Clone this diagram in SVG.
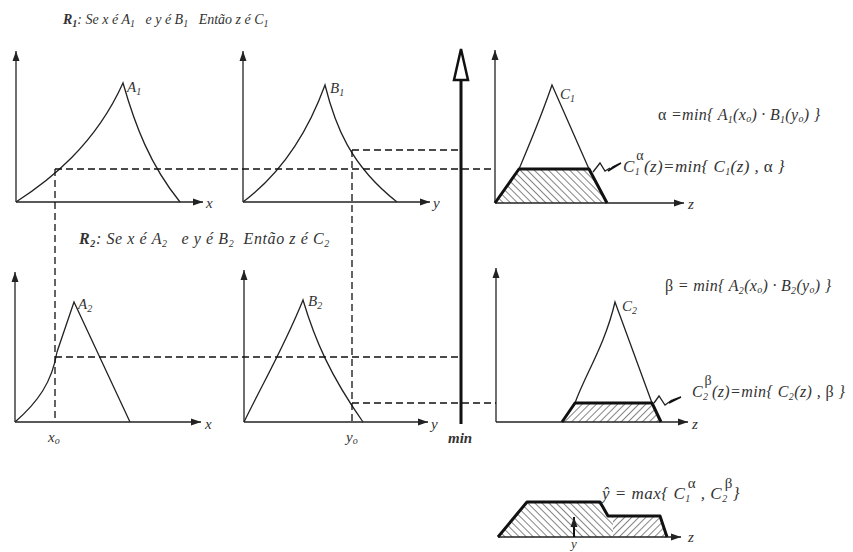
<svg xmlns="http://www.w3.org/2000/svg" width="853" height="552" viewBox="0 0 853 552">
<style>
.ax{stroke:#222;stroke-width:1.3;fill:none}
.cv{stroke:#222;stroke-width:1.3;fill:none}
.tk{stroke:#111;stroke-width:3;fill:none;stroke-linejoin:round}
.dash{stroke:#111;stroke-width:1.3;stroke-dasharray:7 4;fill:none}
text{font-family:"Liberation Serif","Times New Roman",serif;font-style:italic;fill:#333}
.t{font-size:14px}
.t2{font-size:16px;letter-spacing:0.6px}
.l{font-size:15px}
.f{font-size:16px;letter-spacing:0.3px}
.g{font-style:normal}
.b{font-weight:bold}
.s{font-size:10px}
</style>
<defs>
<marker id="ah" viewBox="0 0 10 10" refX="10" refY="5" markerWidth="10" markerHeight="10" markerUnits="userSpaceOnUse" orient="auto"><path d="M0,1.5 L10,5 L0,8.5 z" fill="#222"/></marker>
<pattern id="hb" width="5" height="5" patternUnits="userSpaceOnUse" patternTransform="rotate(-45)"><line x1="2.5" y1="0" x2="2.5" y2="5" stroke="#666" stroke-width="0.8"/></pattern>
<pattern id="hf" width="5" height="5" patternUnits="userSpaceOnUse" patternTransform="rotate(45)"><line x1="2.5" y1="0" x2="2.5" y2="5" stroke="#666" stroke-width="0.8"/></pattern>
</defs>
<rect width="853" height="552" fill="#fff"/>

<g id="rule1">
<text class="t" x="63" y="24" xml:space="preserve"><tspan class="b">R</tspan><tspan class="b s" dy="3">1</tspan><tspan dy="-3">: Se x é A</tspan><tspan class="s" dy="3">1</tspan><tspan dy="-3">   e y é B</tspan><tspan class="s" dy="3">1</tspan><tspan dy="-3">   Então z é C</tspan><tspan class="s" dy="3">1</tspan></text>
</g>

<g id="graphA1">
<path class="ax" d="M16,202 V51" marker-end="url(#ah)"/>
<path class="ax" d="M16,202 H203" marker-end="url(#ah)"/>
<path class="cv" d="M16,202 C50,180 95,145 123,83 C135,125 150,165 180,202"/>
<text class="l" x="127" y="92">A<tspan class="s" dy="3">1</tspan></text>
<text class="l" x="206" y="208">x</text>
</g>

<g id="graphB1">
<path class="ax" d="M243,202 V51" marker-end="url(#ah)"/>
<path class="ax" d="M243,202 H430" marker-end="url(#ah)"/>
<path class="cv" d="M243,202 C275,178 305,140 325,85 C335,125 350,165 397,202"/>
<text class="l" x="330" y="93">B<tspan class="s" dy="3">1</tspan></text>
<text class="l" x="433" y="208">y</text>
</g>

<g id="graphC1">
<path d="M495,203 L519,169 L589,169 L607,203 Z" fill="url(#hb)"/>
<path class="ax" d="M495,203 V50" marker-end="url(#ah)"/>
<path class="ax" d="M495,203 H684" marker-end="url(#ah)"/>
<path class="cv" d="M519,169 C527,150 540,120 552,85 L589,169"/>
<path class="tk" d="M495,203 L519,169 L589,169 L607,203"/>
<text class="l" x="560" y="99">C<tspan class="s" dy="3">1</tspan></text>
<text class="l" x="688" y="209">z</text>
<text class="f" x="658" y="120"><tspan class="g">α</tspan> =min{ A<tspan class="s" dy="3">1</tspan><tspan dy="-3">(x</tspan><tspan class="s" dy="2">o</tspan><tspan dy="-2">) · B</tspan><tspan class="s" dy="3">1</tspan><tspan dy="-3">(y</tspan><tspan class="s" dy="2">o</tspan><tspan dy="-2">) }</tspan></text>
<path class="cv" d="M593,172 L600,163 L605,171 L610,168"/>
<path d="M608,171 L621,163 L613,167 Z" fill="#111" stroke="#111" stroke-width="1.5"/>
<text style="font-size:17px;letter-spacing:0.4px" x="623" y="172">C<tspan class="s" dy="3">1</tspan><tspan class="g" font-size="14" dx="-4" dy="-15">α</tspan><tspan dy="12">(z)=min{ C</tspan><tspan class="s" dy="3">1</tspan><tspan dy="-3">(z) , </tspan><tspan class="g">α</tspan> }</text>
</g>

<g id="rule2">
<text class="t2" x="79" y="244" xml:space="preserve"><tspan class="b">R</tspan><tspan class="b s" dy="3">2</tspan><tspan dy="-3">: Se x é A</tspan><tspan class="s" dy="3">2</tspan><tspan dy="-3">   e y é B</tspan><tspan class="s" dy="3">2</tspan><tspan dy="-3">  Então z é C</tspan><tspan class="s" dy="3">2</tspan></text>
</g>

<g id="graphA2">
<path class="ax" d="M15,422 V272" marker-end="url(#ah)"/>
<path class="ax" d="M15,422 H201" marker-end="url(#ah)"/>
<path class="cv" d="M15,422 C38,402 52,382 57,352 L74,302 L130,422"/>
<text class="l" x="78" y="309">A<tspan class="s" dy="3">2</tspan></text>
<text class="l" x="205" y="429">x</text>
<text class="l" x="48" y="442">x<tspan class="s" dy="2">o</tspan></text>
</g>

<g id="graphB2">
<path class="ax" d="M244,422 V270" marker-end="url(#ah)"/>
<path class="ax" d="M244,422 H428" marker-end="url(#ah)"/>
<path class="cv" d="M244,422 C262,385 285,345 303,300 C315,340 330,375 363,422"/>
<text class="l" x="308" y="306">B<tspan class="s" dy="3">2</tspan></text>
<text class="l" x="431" y="429">y</text>
<text class="l" x="346" y="442">y<tspan class="s" dy="2">o</tspan></text>
</g>

<g id="graphC2">
<path d="M562,422 L575,403 L652,403 L661,422 Z" fill="url(#hf)"/>
<path class="ax" d="M496,422 V268" marker-end="url(#ah)"/>
<path class="ax" d="M496,422 H688" marker-end="url(#ah)"/>
<path class="cv" d="M575,403 C585,375 605,345 615,302 L652,403"/>
<path class="tk" d="M562,422 L575,403 L652,403 L661,422"/>
<text class="l" x="622" y="311">C<tspan class="s" dy="3">2</tspan></text>
<text class="l" x="692" y="429">z</text>
<text class="f" x="665" y="291"><tspan class="g">β</tspan> = min{ A<tspan class="s" dy="3">2</tspan><tspan dy="-3">(x</tspan><tspan class="s" dy="2">o</tspan><tspan dy="-2">) · B</tspan><tspan class="s" dy="3">2</tspan><tspan dy="-3">(y</tspan><tspan class="s" dy="2">o</tspan><tspan dy="-2">) }</tspan></text>
<path class="cv" d="M654,403 L659,396 L665,405 L672,400"/>
<path d="M669,403 L681,397 L673,400 Z" fill="#111" stroke="#111" stroke-width="1.5"/>
<text style="font-size:16px;letter-spacing:0.4px" x="692" y="397">C<tspan class="s" dy="3">2</tspan><tspan class="g" font-size="14" dx="-4" dy="-15">β</tspan><tspan dy="12">(z)=min{ C</tspan><tspan class="s" dy="3">2</tspan><tspan dy="-3">(z) , </tspan><tspan class="g">β</tspan>  }</text>
</g>

<g id="minAxis">
<line x1="461" y1="80" x2="461" y2="424" stroke="#111" stroke-width="3"/>
<path d="M461,49 L454,80 L468,80 Z" fill="#fff" stroke="#111" stroke-width="2.5" stroke-linejoin="miter"/>
<text class="l b" x="448" y="443">min</text>
</g>

<g id="result">
<path d="M498,537 L527,502 L600,502 L608,516 L613,516 L613,537 Z" fill="url(#hb)"/>
<path d="M613,516 L660,516 L667,537 L613,537 Z" fill="url(#hf)"/>
<path class="ax" d="M498,537 H681" marker-end="url(#ah)"/>
<path class="tk" d="M498,537 L527,502 L600,502 L608,516 L660,516 L667,537"/>
<line x1="574" y1="537" x2="574" y2="517" stroke="#111" stroke-width="2" marker-end="url(#ah)"/>
<text style="font-size:13px" x="571" y="548">y</text>
<text class="l" x="688" y="542">z</text>
<text style="font-size:17px;letter-spacing:0.5px" x="602" y="499">ŷ = max{ C<tspan class="s" dy="3">1</tspan><tspan class="g" font-size="15" dx="-3" dy="-14">α</tspan><tspan dy="11"> , C</tspan><tspan class="s" dy="3">2</tspan><tspan class="g" font-size="15" dx="-3" dy="-14">β</tspan><tspan dy="11">}</tspan></text>
</g>

<g id="connectors">
<path class="dash" d="M55,169 H495"/>
<path class="dash" d="M352,150 H461"/>
<path class="dash" d="M55,169 V422"/>
<path class="dash" d="M352,150 V422"/>
<path class="dash" d="M55,357 H461"/>
<path class="dash" d="M352,403 H496"/>
</g>
</svg>
